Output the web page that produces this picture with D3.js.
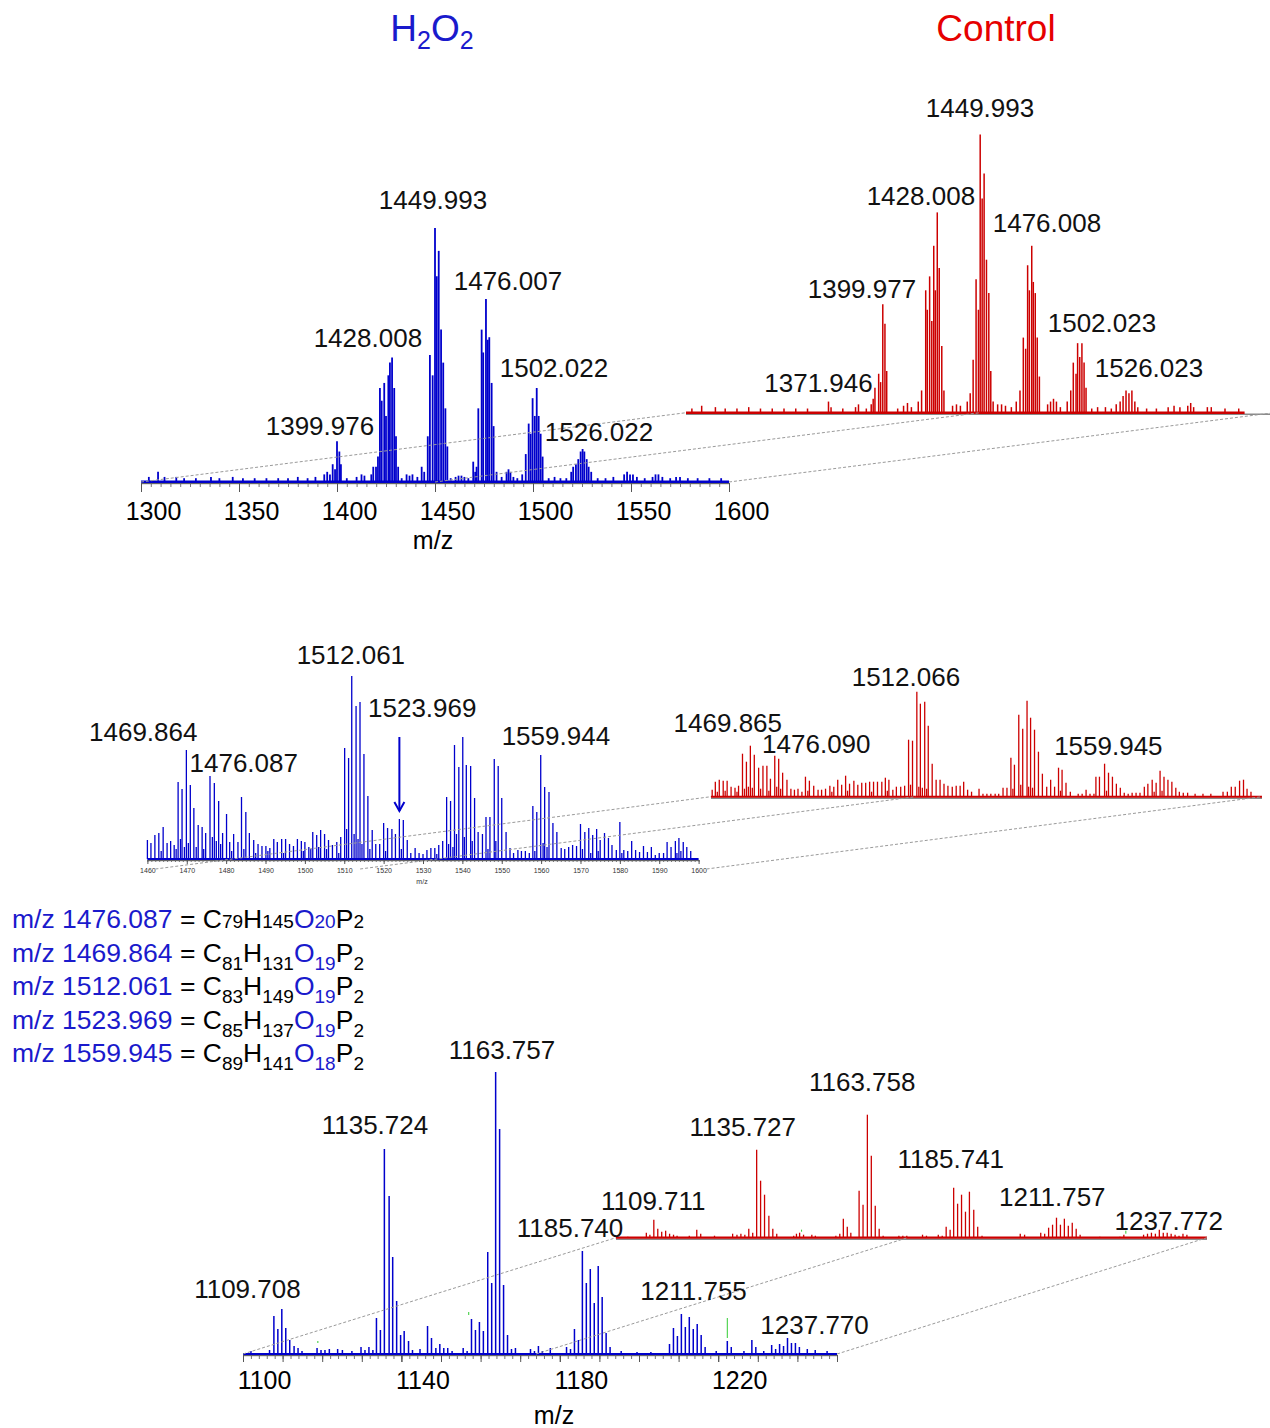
<!DOCTYPE html>
<html>
<head>
<meta charset="utf-8">
<style>
body { margin: 0; background: #fff; }
svg { display: block; font-family: "Liberation Sans", Arial, sans-serif; }
</style>
</head>
<body>
<script src="https://cdn.jsdelivr.net/npm/d3@7"></script>
<script>
// ---- data: [m/z, intensity] ----
// panel 1, wide range 1300-1600 (relative %)
var p1Blue = [
  [1304,2],[1308.7,4],[1312,2],[1318,2],[1322,1.5],[1328,1.5],[1335.7,2],[1340,1.5],[1346.8,2],[1352,1.5],
  [1358,1.5],[1364,1.5],[1370,1.5],[1375,1.5],[1380,2],[1385,1.5],[1389,2],[1393.5,3],[1395,4],[1396.4,3],
  [1397.8,7],[1399.0,5],[1400.0,16],[1401.2,12],[1402.0,7],[1405,1.5],[1410,2],[1412.5,3],[1414,2.5],[1417.5,3],
  [1418.5,6],[1419.9,6],[1420.9,10],[1421.9,37],[1422.8,32],[1424.1,39],[1425.0,26],[1426.2,42],[1427.0,47],[1428.1,49],
  [1429.2,37],[1430.1,18],[1431.2,6],[1433,1.5],[1435.5,3],[1437,2.5],[1438.5,3],[1441,2],[1443.2,6],[1444.5,4],
  [1446.3,18],[1447.4,50],[1448.8,42],[1450.0,100],[1450.9,81],[1451.9,91],[1453.1,60],[1454.2,47],[1455.3,29],[1456.3,14],
  [1458,1.5],[1460.5,2],[1462,2.5],[1463.5,2.5],[1465,2],[1467,1.5],[1469.5,8],[1470.5,4],[1471.2,6],[1472.1,29],
  [1473.8,60],[1474.6,51],[1476.0,72],[1476.9,56],[1477.7,57],[1478.9,39],[1479.9,22],[1481.4,4],[1484,2],[1486.5,4],
  [1487.5,5],[1488.5,4],[1490,2],[1492,1.5],[1494.5,3],[1496.3,11],[1497.8,23],[1498.8,19],[1499.8,33],[1500.9,26],
  [1501.9,37],[1502.9,26],[1503.9,19],[1504.9,10],[1508,1.5],[1511,2],[1514,1.5],[1517,1.5],[1519.5,4],[1520.5,6],
  [1521.9,7],[1523.1,9],[1524.3,12],[1525.3,13],[1526.2,12],[1527.4,9],[1528.4,6],[1529.7,4],[1533,1.5],[1537,1.5],
  [1541,2],[1546.5,3],[1548,4],[1549.5,3],[1551,3],[1553,2],[1557,1.5],[1561,2],[1562.5,3],[1564,3],
  [1566,2],[1570,1.5],[1573,2],[1575,2],[1579,1.5],[1584,1.5],[1590,1.5],[1596,1.5]
];
var p1Red = [
  [1303,1.5],[1308,2.5],[1315,2],[1320,1.5],[1326,1.5],[1332,2],[1338,1.5],[1344,1.5],[1350,1.5],[1356,1.5],
  [1362,1.5],[1372.7,4],[1374,2],[1380,1.5],[1386.5,2],[1388,3],[1392,1.5],[1394.5,3],[1395.5,5],[1396.4,9],
  [1398.3,14],[1399.3,11],[1400.4,39],[1401.5,32],[1402.4,15],[1408,1.5],[1411,2.5],[1413,3.5],[1415,2],[1418.5,4],
  [1420.2,8],[1422.3,44],[1423.1,37],[1424.3,49],[1425.4,33],[1426.4,60],[1427.2,44],[1428.2,72],[1429.2,52],[1430.5,24],
  [1431.6,8],[1436,2.5],[1438,3],[1440,2.5],[1443.5,4],[1445,7],[1446.5,19],[1448.0,48],[1449.2,37],[1450.1,100],
  [1451.1,77],[1452.1,86],[1453.3,55],[1454.5,43],[1455.5,15],[1456.7,4],[1459,3],[1461,3],[1463,2.5],[1466,2],
  [1468.5,4],[1470.4,8],[1472.1,27],[1473.3,23],[1474.3,53],[1475.2,44],[1476.4,60],[1477.2,47],[1478.2,43],[1479.2,27],
  [1480.3,13],[1484.5,3],[1486,4],[1487.5,5],[1489,4],[1491,2],[1494.5,4],[1496.3,8],[1497.6,18],[1499.0,14],
  [1499.8,25],[1500.9,20],[1502.0,25],[1503.1,18],[1504.1,9],[1507,1.5],[1510,2],[1514,2],[1517,1.5],[1519.5,3],
  [1521.5,4],[1523,6],[1524.5,8],[1526,7],[1527.5,8],[1529,4],[1530.5,2],[1535,1.5],[1540,1.5],[1546,2],
  [1549,2.5],[1552,2],[1556,2.5],[1557.5,3.5],[1559,2],[1566,2],[1568,2],[1575,1.5],[1582,1.5]
];

// panel 2, zoom 1460-1600 (arbitrary units)
var p2Blue = [
  [1460.0,19],[1460.9,16],[1461.9,24],[1462.9,26],[1464.0,32],[1465.0,16],[1465.9,18],[1466.8,14],[1467.8,77],[1468.8,70],
  [1469.9,109],[1470.9,74],[1471.8,51],[1472.9,34],[1473.9,32],[1474.8,26],[1475.9,83],[1477.0,76],[1478.1,58],[1479.1,26],
  [1480.1,45],[1480.9,17],[1481.9,25],[1483.0,17],[1483.9,62],[1485.0,47],[1485.9,26],[1487.0,19],[1488.1,15],[1489.1,13],
  [1490.1,13],[1491.1,11],[1492.1,20],[1493.0,17],[1494.1,20],[1495.1,20],[1496.1,15],[1497.1,13],[1498.1,20],[1499.1,18],
  [1500.0,17],[1501.0,12],[1502.0,27],[1503.0,24],[1504.0,29],[1505.0,25],[1506.0,19],[1507.0,14],[1508.1,17],[1509.1,22],
  [1510.1,111],[1511.1,101],[1511.9,183],[1513.0,153],[1514.0,157],[1515.0,105],[1516.0,63],[1517.1,29],[1518.0,15],[1519.0,15],
  [1520.0,36],[1521.0,31],[1522.1,30],[1523.0,25],[1524.0,40],[1525.0,39],[1526.0,19],[1526.9,6],[1528.0,11],[1529.0,6],
  [1530.0,5],[1531.0,9],[1532.0,11],[1533.0,11],[1534.0,14],[1535.0,18],[1536.0,62],[1537.0,58],[1538.0,114],[1539.1,92],
  [1540.1,122],[1541.0,94],[1542.1,93],[1543.1,61],[1544.0,27],[1545.1,25],[1546.0,42],[1547.0,42],[1548.1,100],[1549.1,93],
  [1550.0,61],[1551.1,27],[1552.1,11],[1553.0,6],[1554.1,9],[1555.0,8],[1556.0,8],[1557.0,6],[1557.9,53],[1558.9,47],
  [1559.9,104],[1560.9,72],[1562.0,67],[1563.0,36],[1564.0,27],[1565.1,11],[1566.0,10],[1567.0,12],[1568.0,14],[1569.0,13],
  [1570.0,35],[1571.1,27],[1572.1,31],[1573.1,24],[1574.1,30],[1575.0,19],[1576.1,26],[1577.1,21],[1578.0,14],[1579.1,9],
  [1580.0,37],[1581.0,9],[1582.0,8],[1583.0,18],[1584.0,9],[1585.0,7],[1586.0,13],[1587.0,7],[1588.0,12],[1589.0,4],
  [1590.0,6],[1591.1,6],[1592.0,17],[1593.0,12],[1594.1,18],[1595.0,21],[1596.1,17],[1597.0,12],[1598.0,8]
];
var p2BlueMinor = [
  [1463.5,8],[1467.3,10],[1468.4,20],[1469.4,12],[1470.4,16],[1472.4,12],[1474.3,10],[1476.5,22],[1477.5,18],[1478.6,15],
  [1481.4,8],[1484.5,10],[1487.5,6],[1490.6,8],[1494.6,6],[1499.6,8],[1501.5,10],[1503.5,12],[1505.5,10],[1508.6,6],
  [1510.6,30],[1512.5,25],[1513.5,20],[1514.5,15],[1516.5,10],[1520.5,8],[1524.5,10],[1533.5,5],[1536.5,15],[1537.6,12],
  [1538.5,25],[1540.5,22],[1542.5,18],[1546.5,10],[1548.5,18],[1558.4,8],[1560.5,16],[1561.5,12],[1570.5,10],[1572.6,6],
  [1574.5,8],[1580.5,6],[1594.5,6],[1595.5,8]
];
var p2Red = [
  [1460.3,7],[1461.1,15],[1462.1,17],[1463.1,16],[1464.1,16],[1465.1,10],[1466.1,9],[1467.0,11],[1468.0,43],[1469.0,35],
  [1470.0,51],[1471.0,42],[1472.1,29],[1473.2,31],[1474.2,31],[1475.1,18],[1476.2,41],[1477.2,38],[1478.2,24],[1479.3,17],
  [1480.3,8],[1481.2,7],[1482.1,8],[1483.1,5],[1484.0,20],[1485.0,16],[1486.1,11],[1487.2,7],[1488.1,7],[1489.1,8],
  [1490.2,11],[1491.2,10],[1492.2,17],[1493.2,12],[1494.2,21],[1495.2,13],[1496.3,16],[1497.3,12],[1498.3,14],[1499.3,14],
  [1500.3,15],[1501.3,15],[1502.3,15],[1503.4,15],[1504.3,19],[1505.2,17],[1506.2,7],[1507.1,10],[1508.2,10],[1509.2,11],
  [1510.2,57],[1511.2,56],[1512.3,105],[1513.2,93],[1514.3,95],[1515.2,71],[1516.2,33],[1517.2,17],[1518.2,17],[1519.2,13],
  [1520.2,11],[1521.3,10],[1522.3,11],[1523.3,11],[1524.2,15],[1525.2,7],[1526.2,5],[1528.1,8],[1529.1,3],[1530.1,3],
  [1531.1,3],[1532.2,3],[1533.1,3],[1534.2,9],[1535.2,9],[1536.2,39],[1537.1,32],[1538.2,82],[1539.2,68],[1540.3,96],
  [1541.2,79],[1542.2,67],[1543.2,45],[1544.2,23],[1545.3,10],[1546.3,17],[1547.3,10],[1548.3,29],[1549.2,27],[1550.2,14],
  [1551.3,5],[1553.3,3],[1554.3,3],[1555.3,7],[1556.3,3],[1557.3,3],[1557.8,20],[1558.7,20],[1560.0,33],[1561.0,24],
  [1562.0,20],[1563.0,13],[1564.0,9],[1565.0,4],[1566.0,3],[1567.0,4],[1568.0,4],[1569.0,4],[1570.1,10],[1571.0,13],
  [1572.1,17],[1573.1,14],[1574.1,26],[1575.1,20],[1576.1,17],[1577.1,15],[1578.1,9],[1579.0,5],[1580.0,4],[1581.1,4],
  [1583.0,3],[1585.0,3],[1587.0,3],[1590.1,5],[1591.2,5],[1592.2,10],[1593.2,10],[1594.3,16],[1595.3,17],[1596.2,8],[1597.2,5]
];
var p2RedMinor = [
  [1461.6,5],[1463.6,6],[1466.6,5],[1468.5,8],[1469.5,10],[1470.5,9],[1472.6,8],[1474.7,6],[1476.7,10],[1477.7,8],
  [1484.6,6],[1490.7,5],[1494.7,6],[1500.8,5],[1504.8,6],[1510.7,12],[1512.8,10],[1513.7,9],[1514.8,8],[1536.7,8],
  [1538.7,12],[1540.7,10],[1541.7,9],[1548.8,6],[1560.5,6],[1572.6,5],[1574.6,6]
];

// panel 3, 1100-1250 (arbitrary units)
var p3Blue = [
  [1102.0,3],[1106.7,4],[1107.8,38],[1108.8,25],[1109.8,45],[1110.8,26],[1111.8,14],[1112.9,8],[1113.9,6],[1114.9,3],
  [1118.7,6],[1119.7,4],[1120.7,4],[1121.8,5],[1123.9,5],[1125.1,4],[1127.5,3],[1129.8,7],[1130.8,4],[1131.8,7],
  [1132.8,4],[1133.7,36],[1134.7,24],[1135.7,205],[1136.9,158],[1137.8,97],[1138.8,53],[1139.8,19],[1140.7,23],[1141.8,13],
  [1142.8,4],[1144.7,5],[1146.6,28],[1147.6,16],[1148.7,6],[1149.7,10],[1150.7,6],[1151.7,6],[1152.8,3],[1155.6,6],
  [1156.6,3],[1157.7,35],[1158.7,24],[1159.7,32],[1160.7,23],[1161.8,102],[1162.8,71],[1163.8,282],[1164.8,225],[1165.8,69],
  [1166.8,19],[1167.8,5],[1168.8,6],[1172.6,5],[1173.6,3],[1174.6,8],[1175.6,3],[1177.6,6],[1181.7,7],[1182.7,5],
  [1183.7,25],[1184.7,14],[1185.7,103],[1186.7,71],[1187.7,85],[1188.7,51],[1189.7,88],[1190.7,57],[1191.7,21],[1192.7,7],
  [1195.5,3],[1199.5,2],[1203.0,2],[1207.7,10],[1208.7,26],[1209.7,18],[1210.7,40],[1211.7,27],[1212.7,37],[1213.7,25],
  [1214.7,30],[1215.7,19],[1216.7,7],[1219.5,3],[1222.3,13],[1223.3,7],[1226.5,3],[1228.5,14],[1229.5,7],[1231.5,3],
  [1233.5,9],[1234.5,5],[1235.5,10],[1236.5,8],[1237.5,16],[1238.5,11],[1239.5,11],[1240.5,7],[1242.5,5],[1244.5,4],[1247.5,3]
];
var p3Red = [
  [1103.0,1],[1107.7,5],[1108.6,3],[1109.6,18],[1110.6,9],[1111.6,6],[1112.6,7],[1113.6,4],[1114.6,3],[1115.5,2],
  [1118.6,2],[1120.5,8],[1121.5,4],[1125.0,2],[1129.6,4],[1130.7,3],[1131.7,4],[1132.7,3],[1133.7,9],[1134.7,5],
  [1135.7,88],[1136.7,57],[1137.7,43],[1138.8,22],[1139.8,9],[1140.8,4],[1145.1,2],[1145.8,4],[1146.6,5],[1147.6,3],
  [1149.7,3],[1150.6,2],[1155.8,2],[1156.8,4],[1157.7,19],[1158.7,11],[1159.6,5],[1161.7,47],[1162.7,33],[1163.8,123],
  [1164.8,82],[1165.8,32],[1166.8,9],[1167.8,2],[1171.8,2],[1172.8,2],[1173.8,2],[1177.8,3],[1178.8,2],[1181.8,3],
  [1182.8,2],[1183.8,11],[1184.8,8],[1185.7,50],[1186.7,34],[1187.7,43],[1188.7,26],[1189.7,46],[1190.8,28],[1191.8,11],
  [1192.9,2],[1202.6,4],[1203.7,3],[1207.8,5],[1208.8,4],[1209.8,10],[1210.8,13],[1211.8,20],[1212.8,13],[1213.8,19],
  [1214.8,12],[1215.8,15],[1216.8,9],[1217.8,3],[1222.8,1],[1227.9,1],[1228.9,3],[1233.9,3],[1234.9,4],[1235.9,5],
  [1236.9,4],[1237.9,8],[1238.9,5],[1239.9,5],[1240.9,4],[1241.9,3],[1242.9,2],[1243.9,4],[1244.9,3]
];
// small green traces: [m/z, from, to]
var p3BlueGreen = [[1118.9,11,13],[1157.0,39,42],[1222.3,16,36]];
var p3RedGreen = [[1147.1,6,8],[1229.4,4,7]];

// peak labels (text)
var p1BlueLabels = ["1449.993","1476.007","1428.008","1502.022","1399.976","1526.022"];
var p1RedLabels = ["1449.993","1428.008","1476.008","1399.977","1502.023","1526.023","1371.946"];
var p2BlueLabels = ["1512.061","1523.969","1469.864","1476.087","1559.944"];
var p2RedLabels = ["1512.066","1469.865","1476.090","1559.945"];
var p3BlueLabels = ["1163.757","1135.724","1109.708","1185.740","1211.755","1237.770"];
var p3RedLabels = ["1163.758","1135.727","1185.741","1109.711","1211.757","1237.772"];

// assignments
var formulaMz = ["1476.087","1469.864","1512.061","1523.969","1559.945"];
var formulaC = [79,81,83,85,89];
var formulaH = [145,131,149,137,141];
var formulaO = [20,19,19,19,18];
var formulaP = [2,2,2,2,2];

// tick values
var p1Ticks = [1300,1350,1400,1450,1500,1550,1600];
var p2Ticks = d3.range(1460,1601,10);
var p3Ticks = [1100,1140,1180,1220];

// ---- layout ----
var BLUE = "#0000cc", RED = "#cc0000", FONT = "'Liberation Sans', Arial, sans-serif";

var svg = d3.select("body").append("svg").attr("width",1270).attr("height",1428);

// scales
var x1b = d3.scaleLinear().domain([1300,1600]).range([141,729]),
    y1b = d3.scaleLinear().domain([0,100]).range([482,228]),
    x1r = d3.scaleLinear().domain([1300,1600]).range([686,1274]),
    y1r = d3.scaleLinear().domain([0,100]).range([412.7,134.5]);
var x2b = d3.scaleLinear().domain([1460,1600]).range([147.4,698.6]),
    y2b = d3.scaleLinear().domain([0,183]).range([859,676]),
    x2r = d3.scaleLinear().domain([1460,1600]).range([711,1262]),
    y2r = d3.scaleLinear().domain([0,105]).range([796.7,691.7]);
var x3b = d3.scaleLinear().domain([1100,1250]).range([243,837]),
    y3b = d3.scaleLinear().domain([0,282]).range([1354,1072]),
    x3r = d3.scaleLinear().domain([1100,1250]).range([616,1207]),
    y3r = d3.scaleLinear().domain([0,123]).range([1237.7,1114.7]);

// draws one stick spectrum with its base line
function spectrum(data, x, y, color, sw, baseW, dataEnd) {
  var g = svg.append("g");
  var x0 = x.range()[0], x1 = dataEnd ? x(dataEnd) : x.range()[1];
  g.append("line").attr("x1",x0).attr("x2",x.range()[1]).attr("y1",y(0)+1.5).attr("y2",y(0)+1.5)
    .attr("stroke","#8a8a8a").attr("stroke-width",1.5);
  g.selectAll("line.pk").data(data).join("line").attr("class","pk")
    .attr("x1",function(d){return x(d[0]);}).attr("x2",function(d){return x(d[0]);})
    .attr("y1",y(0)).attr("y2",function(d){return y(d[1]);})
    .attr("stroke",color).attr("stroke-width",sw);
  g.append("line").attr("x1",x0).attr("x2",x1).attr("y1",y(0)).attr("y2",y(0))
    .attr("stroke",color).attr("stroke-width",baseW);
  return g;
}

function greenMarks(data, x, y) {
  svg.append("g").selectAll("line").data(data).join("line")
    .attr("x1",function(d){return x(d[0]);}).attr("x2",function(d){return x(d[0]);})
    .attr("y1",function(d){return y(d[1]);}).attr("y2",function(d){return y(d[2]);})
    .attr("stroke","#33cc33").attr("stroke-width",1);
}

function axis(x, y0, majors, minors, o) {
  var gm = svg.append("g").attr("transform","translate(0,"+y0+")")
    .call(d3.axisBottom(x).tickValues(minors).tickSize(o.minLen).tickFormat(""));
  gm.select(".domain").remove();
  gm.selectAll("line").attr("stroke","#555").attr("stroke-width",0.8);
  var g = svg.append("g").attr("transform","translate(0,"+y0+")")
    .call(d3.axisBottom(x).tickValues(majors).tickSize(o.majLen).tickSizeOuter(0).tickFormat(d3.format("d")));
  g.select(".domain").attr("stroke","#666").attr("stroke-width",1.2);
  g.selectAll(".tick line").attr("stroke","#555").attr("stroke-width",1);
  g.selectAll("text").attr("x",o.dx).attr("y",o.ty).attr("font-size",o.fs)
    .attr("font-family",FONT).attr("fill",o.fill || "#000");
  svg.append("text").attr("x",o.labX).attr("y",o.labY).attr("text-anchor","middle")
    .attr("font-size",o.fs).attr("font-family",FONT).attr("fill",o.fill || "#000").text("m/z");
}

function labels(texts, x, pos, size) {
  svg.append("g").selectAll("text").data(texts).join("text")
    .attr("x",function(d,i){return x(+d) + pos[i][0];})
    .attr("y",function(d,i){return pos[i][1];})
    .attr("text-anchor","middle").attr("font-size",size || 26).attr("font-family",FONT)
    .attr("fill","#111").text(function(d){return d;});
}

function connectors(mzs, xb, yb, xr, yr, dy, dx) {
  svg.append("g").selectAll("line").data(mzs).join("line")
    .attr("x1",function(m){return xb(m) + (dx||0);}).attr("y1",yb(0) + (dy||0))
    .attr("x2",function(m){return xr(m);}).attr("y2",yr(0))
    .attr("stroke","#9a9a9a").attr("stroke-width",1).attr("stroke-dasharray","3,2");
}

// ---- titles ----
var t1 = svg.append("text").attr("x",432).attr("y",41).attr("text-anchor","middle")
  .attr("font-size",37).attr("font-family",FONT).attr("fill","#1a1acc");
t1.append("tspan").text("H");
t1.append("tspan").attr("font-size",25).attr("dy",8).text("2");
t1.append("tspan").attr("dy",-8).text("O");
t1.append("tspan").attr("font-size",25).attr("dy",8).text("2");
svg.append("text").attr("x",996).attr("y",41).attr("text-anchor","middle")
  .attr("font-size",37).attr("font-family",FONT).attr("fill","#e60000").text("Control");

// ---- panel 1 ----
spectrum(p1Red, x1r, y1r, RED, 1.5, 2.5, 1585);
spectrum(p1Blue, x1b, y1b, BLUE, 1.8, 3);
axis(x1b, 483, p1Ticks, d3.range(1300,1601,5), {minLen:4, majLen:9, dx:12, ty:19, fs:25, labX:433, labY:549});
connectors([1300,1450,1600], x1b, y1b, x1r, y1r);
labels(p1BlueLabels, x1b, [[-2,209],[22,290],[-24,347],[17,377],[-17,435],[15,441]]);
labels(p1RedLabels, x1r, [[0,117],[-16,205],[16,232],[-20,298],[20,332],[20,377],[-8.5,392]]);

// ---- panel 2 ----
spectrum(p2RedMinor.concat(p2Red), x2r, y2r, RED, 1.3, 2);
spectrum(p2BlueMinor.concat(p2Blue), x2b, y2b, BLUE, 1.3, 2);
axis(x2b, 860, p2Ticks, d3.range(1460,1601,1), {minLen:2, majLen:4, dx:0, ty:8.5, fs:7, labX:422, labY:884, fill:"#333"});
connectors([1460,1512,1600], x2b, y2b, x2r, y2r, 10, 8);
labels(p2BlueLabels, x2b, [[-1.5,664],[23,717],[-43,741],[33,772],[15,745]]);
labels(p2RedLabels, x2r, [[-10,686],[-22,732],[42,753],[4,755]]);

// arrow at m/z 1524
var ax = x2b(1524.0);
svg.append("line").attr("x1",ax).attr("x2",ax).attr("y1",y2b(122)).attr("y2",y2b(48))
  .attr("stroke",BLUE).attr("stroke-width",2);
svg.append("path").attr("d","M"+(ax-5)+","+(y2b(48)-9)+"L"+ax+","+y2b(48)+"L"+(ax+5)+","+(y2b(48)-9))
  .attr("fill","none").attr("stroke",BLUE).attr("stroke-width",2);

// ---- formula list ----
var fg = svg.append("g").attr("font-family",FONT).attr("font-size",26.5);
formulaMz.forEach(function(mz, i) {
  var t = fg.append("text").attr("x",12).attr("y",928 + i*33.5);
  var shift = i === 0 ? 0 : 8; // first line keeps the small digits on the baseline
  var el = function(sym, n, col) {
    t.append("tspan").attr("fill",col).attr("dy", t.property("lowered") ? -shift : 0).text(sym);
    t.append("tspan").attr("fill",col).attr("font-size",19).attr("dy",shift).text(n);
    t.property("lowered", true);
  };
  t.append("tspan").attr("fill","#1a1acc").text("m/z " + mz);
  t.append("tspan").attr("fill","#000").text(" = ");
  el("C", formulaC[i], "#000");
  el("H", formulaH[i], "#000");
  el("O", formulaO[i], "#1a1acc");
  el("P", formulaP[i], "#000");
});

// ---- panel 3 ----
spectrum(p3Red, x3r, y3r, RED, 1.3, 2.2);
greenMarks(p3RedGreen, x3r, y3r);
spectrum(p3Blue, x3b, y3b, BLUE, 1.5, 2.2);
greenMarks(p3BlueGreen, x3b, y3b);
axis(x3b, 1355, p3Ticks, d3.range(1100,1251,2), {minLen:4, majLen:7, dx:21, ty:16, fs:25, labX:554, labY:1424});
svg.append("g").attr("transform","translate(0,1355)")
  .call(d3.axisBottom(x3b).tickValues(d3.range(1100,1251,10)).tickSize(7).tickFormat(""))
  .call(function(g){ g.select(".domain").remove(); g.selectAll("line").attr("stroke","#555"); });
connectors([1100,1174,1250], x3b, y3b, x3r, y3r);
labels(p3BlueLabels, x3b, [[6.5,1059],[-9.5,1134],[-34,1298],[-12.5,1237],[8,1300],[26,1334]]);
labels(p3RedLabels, x3r, [[-5,1091],[-14,1136],[-3,1168],[-1,1210],[-4,1206],[10,1230]]);
</script>
</body>
</html>
